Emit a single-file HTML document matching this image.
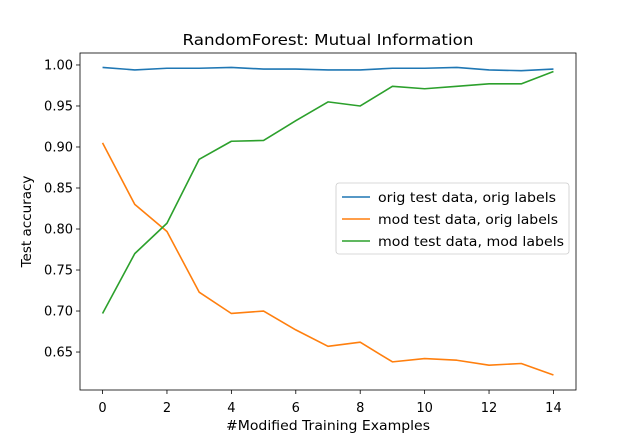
<!DOCTYPE html>
<html><head><meta charset="utf-8"><style>
body{margin:0;background:#fff;}
svg{display:block;font-family:"DejaVu Sans","Liberation Sans",sans-serif;}
</style></head><body>
<svg id="chart" width="640" height="438"></svg>
<script>
const xValues=[0,1,2,3,4,5,6,7,8,9,10,11,12,13,14];
const origOrig=[0.997,0.994,0.996,0.996,0.997,0.995,0.995,0.994,0.994,0.996,0.996,0.997,0.994,0.993,0.995];
const modOrig=[0.905,0.830,0.797,0.723,0.697,0.700,0.677,0.657,0.662,0.638,0.642,0.640,0.634,0.636,0.622];
const modMod=[0.697,0.770,0.807,0.885,0.907,0.908,0.932,0.955,0.950,0.974,0.971,0.974,0.977,0.977,0.992];
const xTicks=[0,2,4,6,8,10,12,14];
const yTicks=[0.65,0.70,0.75,0.80,0.85,0.90,0.95,1.00];
const seriesNames=["orig test data, orig labels","mod test data, orig labels","mod test data, mod labels"];
const colors=["#1f77b4","#ff7f0e","#2ca02c"];

const L=80,R=576,T=53,B=390;
const xMin=-0.7,xMax=14.7,yMin=0.6037,yMax=1.0146;
const sx=v=>L+(v-xMin)/(xMax-xMin)*(R-L);
const sy=v=>B-(v-yMin)/(yMax-yMin)*(B-T);
const NS="http://www.w3.org/2000/svg";
const svg=document.getElementById('chart');
function mk(tag,attrs,parent){const e=document.createElementNS(NS,tag);for(const k in attrs)e.setAttribute(k,attrs[k]);(parent||svg).appendChild(e);return e;}

const title=mk('text',{x:(L+R)/2+0,y:45,'text-anchor':'middle','font-size':15.5,textLength:291,lengthAdjust:'spacingAndGlyphs'});
title.textContent='RandomForest: Mutual Information';



xTicks.forEach(t=>{
  const g=mk('g',{});
  
  
  mk('line',{x1:sx(t),x2:sx(t),y1:B,y2:B+4,stroke:'#000','stroke-width':0.8},g);
  const tx=mk('text',{x:sx(t),y:B+22,'text-anchor':'middle','font-size':13},g);tx.textContent=t;
});
yTicks.forEach(t=>{
  const g=mk('g',{});
  
  
  mk('line',{x1:L-4,x2:L,y1:sy(t),y2:sy(t),stroke:'#000','stroke-width':0.8},g);
  const tx=mk('text',{x:L-7,y:sy(t)+4.5,'text-anchor':'end','font-size':13},g);tx.textContent=t.toFixed(2);
});
const xl=mk('text',{x:(L+R)/2,y:430,'text-anchor':'middle','font-size':13.5,textLength:204,lengthAdjust:'spacingAndGlyphs'});xl.textContent='#Modified Training Examples';


const yl=mk('text',{x:0,y:0,'text-anchor':'middle','font-size':13.5,transform:`translate(31,${(T+B)/2}) rotate(-90)`});yl.textContent='Test accuracy';



[origOrig,modOrig,modMod].forEach((s,i)=>{
  const p=mk('polyline',{points:s.map((v,j)=>sx(xValues[j])+','+sy(v)).join(' '),fill:'none',stroke:colors[i],'stroke-width':1.6,'stroke-linejoin':'round'});
  
  
});

const frame=mk('rect',{x:L,y:T,width:R-L,height:B-T,fill:'none',stroke:'#000','stroke-width':0.8});



const lg=mk('g',{});


mk('rect',{x:336,y:183,width:233,height:71,rx:3,fill:'#fff','fill-opacity':0.8,stroke:'#ccc','stroke-width':0.8},lg);
const legendLens=[178,180,186];
seriesNames.forEach((n,i)=>{
  const y=197+i*22;
  const e=mk('g',{},lg);
  
  
  mk('line',{x1:342,x2:370,y1:y,y2:y,stroke:colors[i],'stroke-width':1.6},e);
  const t=mk('text',{x:378,y:y+5,'font-size':13.5,textLength:legendLens[i],lengthAdjust:'spacingAndGlyphs'},e);t.textContent=n;
});
</script>
</body></html>
